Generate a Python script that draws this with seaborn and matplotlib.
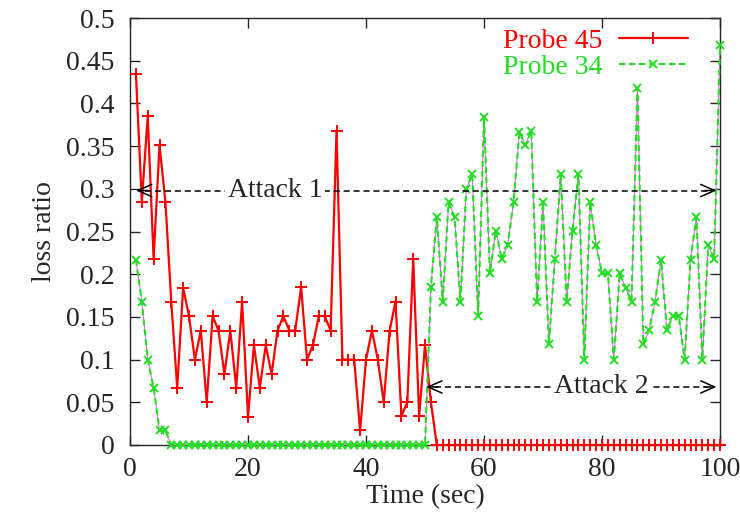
import matplotlib
matplotlib.use('Agg')
import matplotlib.pyplot as plt
import seaborn as sns
import pandas as pd

# loss ratio per second
time = list(range(1, 101))
probe45 = [0.435, 0.285, 0.385, 0.218, 0.351, 0.285, 0.167, 0.067, 0.184, 0.151,
           0.100, 0.134, 0.050, 0.151, 0.134, 0.083, 0.134, 0.067, 0.168, 0.033,
           0.117, 0.067, 0.117, 0.083, 0.134, 0.151, 0.134, 0.134, 0.185, 0.100,
           0.117, 0.151, 0.151, 0.134, 0.368, 0.100, 0.100, 0.100, 0.017, 0.100,
           0.134, 0.100, 0.050, 0.134, 0.168, 0.034, 0.050, 0.218, 0.034, 0.117,
           0.050] + [0.0] * 49
probe34 = [0.217, 0.168, 0.100, 0.067, 0.017, 0.017] + [0.0] * 44 + \
          [0.185, 0.267, 0.168, 0.284, 0.267, 0.168, 0.300, 0.317, 0.151, 0.384,
           0.201, 0.251, 0.218, 0.234, 0.284, 0.367, 0.351, 0.368, 0.168, 0.284,
           0.118, 0.218, 0.317, 0.168, 0.251, 0.317, 0.100, 0.284, 0.234, 0.201,
           0.201, 0.100, 0.201, 0.184, 0.168, 0.418, 0.118, 0.135, 0.168, 0.217,
           0.135, 0.151, 0.151, 0.100, 0.217, 0.267, 0.100, 0.234, 0.218, 0.468]
series = ['Probe 45', 'Probe 34']
xticks = [0, 20, 40, 60, 80, 100]
yticks = [0, 0.05, 0.1, 0.15, 0.2, 0.25, 0.3, 0.35, 0.4, 0.45, 0.5]

# attacks: (label, start, end, y, label x)
attacks = [('Attack 1', 1.0, 99.4, 0.298, 24.6), ('Attack 2', 50.2, 99.4, 0.068, 79.8)]

RED = '#ff0000'
GREEN = '#22dd22'
FS = 20

sns.set_style('ticks')
plt.rcParams['font.family'] = ['Liberation Serif', 'DejaVu Serif']
plt.rcParams['font.size'] = FS

df = pd.DataFrame({'time': time, series[0]: probe45, series[1]: probe34})

fig = plt.figure(figsize=(7.4, 5.27), dpi=100)
ax = fig.add_axes([0.1757, 0.1556, 0.7973, 0.8102])

sns.lineplot(data=df, x='time', y=series[0], color=RED, lw=1.6, marker='+',
             markersize=8, markeredgewidth=1.4, markeredgecolor=RED,
             ax=ax, label=series[0], clip_on=False, zorder=3)
# thin magenta underlay seen in the gaps of the dashed green line
sns.lineplot(data=df, x='time', y=series[1], color='#ee44ee', lw=0.6, ax=ax,
             clip_on=False, zorder=3.5)
sns.lineplot(data=df, x='time', y=series[1], color=GREEN, lw=1.5,
             linestyle=(0, (3, 1.8)), marker='x', markersize=5.5,
             markeredgewidth=1.4, markeredgecolor=GREEN,
             ax=ax, label=series[1], clip_on=False, zorder=4)

for name, x0, x1, y, xt in attacks:
    ax.hlines(y, x0 + 1.5, x1 - 1.5, colors='black', lw=1.1,
              linestyles=(0, (4, 2.5)), zorder=5)
    for tip, tail in [(x0, x0 + 2.0), (x1, x1 - 2.0)]:
        ax.annotate('', xy=(tip, y), xytext=(tail, y),
                    arrowprops=dict(arrowstyle='->,head_length=0.5,head_width=0.22',
                                    lw=1.1, color='black', shrinkA=0, shrinkB=0),
                    zorder=5)
    ax.text(xt, y, name, ha='center', va='center', fontsize=FS, zorder=6,
            bbox=dict(facecolor='white', edgecolor='none', pad=2))

ax.set_xlim(0, 100)
ax.set_ylim(0, 0.5)
ax.set_xticks(xticks)
ax.set_yticks(yticks)
ax.set_yticklabels(['%g' % v for v in yticks])
ax.tick_params(direction='in', top=True, right=True, length=7, width=1,
               labelsize=FS)
ax.tick_params(axis='x', pad=9)
ax.tick_params(axis='y', pad=11)
for s in ax.spines.values():
    s.set_linewidth(1.0)
ax.set_xlabel('Time (sec)', fontsize=FS, labelpad=1)
ax.set_ylabel('loss ratio', fontsize=FS, labelpad=7)

leg = ax.legend(loc='upper right', bbox_to_anchor=(0.946, 0.975), frameon=False,
                markerfirst=False, handlelength=2.5, fontsize=FS,
                labelspacing=0.0, handletextpad=0.6, borderpad=0.0,
                borderaxespad=0.0)
for t, c in zip(leg.get_texts(), [RED, GREEN]):
    t.set_color(c)

fig.savefig('out.png', dpi=100)
